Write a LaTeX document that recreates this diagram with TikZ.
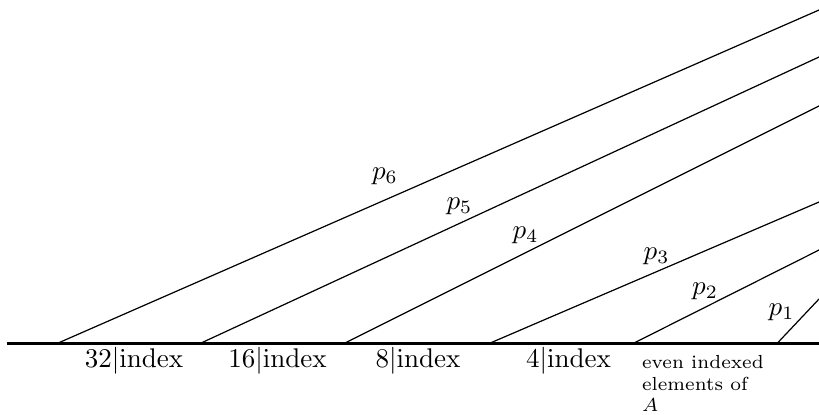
\documentclass[tikz,border=0pt]{standalone}
\usepackage{amsmath,amssymb}
\usepackage{tikz}
\usetikzlibrary{positioning}

\begin{document}
\begin{tikzpicture}[
  x=0.37pt, y=-0.37pt,
  axis/.style={draw=black, line width=1.1pt},
  part/.style={draw=black, line width=0.45pt},
  plab/.style={inner sep=0pt},
  cls/.style={anchor=base, inner sep=0pt},
  note/.style={font=\scriptsize, align=left, anchor=north west, inner sep=0pt}
]
\useasboundingbox (0,0) rectangle (819,414);
% base line
\coordinate (left) at (7,343.5);
\coordinate (right) at (819,343.5);
\draw[axis] (left) -- (right);
% start and end points
\coordinate (s6) at (57,343.5);
\coordinate (s5) at (200,343.5);
\coordinate (s4) at (344,343.5);
\coordinate (s3) at (489,343.5);
\coordinate (s2) at (633,343.5);
\coordinate (s1) at (777,343.5);
\coordinate (e6) at (819,10);
\coordinate (e5) at (819,57);
\coordinate (e4) at (819,106);
\coordinate (e3) at (819,202);
\coordinate (e2) at (819,250);
\coordinate (e1) at (819,299);
\draw[part] (s6) -- (e6);
\draw[part] (s5) -- (e5);
\draw[part] (s4) -- (e4);
\draw[part] (s3) -- (e3);
\draw[part] (s2) -- (e2);
\draw[part] (s1) -- (e1);
\node[plab] (p6) at (385,176.5) {$p_6$};
\node[plab] (p5) at (459.5,206.5) {$p_5$};
\node[plab] (p4) at (525.5,235) {$p_4$};
\node[plab] (p3) at (656.5,256.5) {$p_3$};
\node[plab] (p2) at (705,291) {$p_2$};
\node[plab] (p1) at (781.5,312.5) {$p_1$};
% classes below the line
\node[cls] (c32) at (134,367) {$32|\mathrm{index}$};
\node[cls] (c16) at (277.5,367) {$16|\mathrm{index}$};
\node[cls] (c8) at (418,367) {$8|\mathrm{index}$};
\node[cls] (c4) at (568.5,367) {$4|\mathrm{index}$};
\node[note] (even) at (641.5,355) {even indexed\\elements of\\$A$};
\end{tikzpicture}
\end{document}
